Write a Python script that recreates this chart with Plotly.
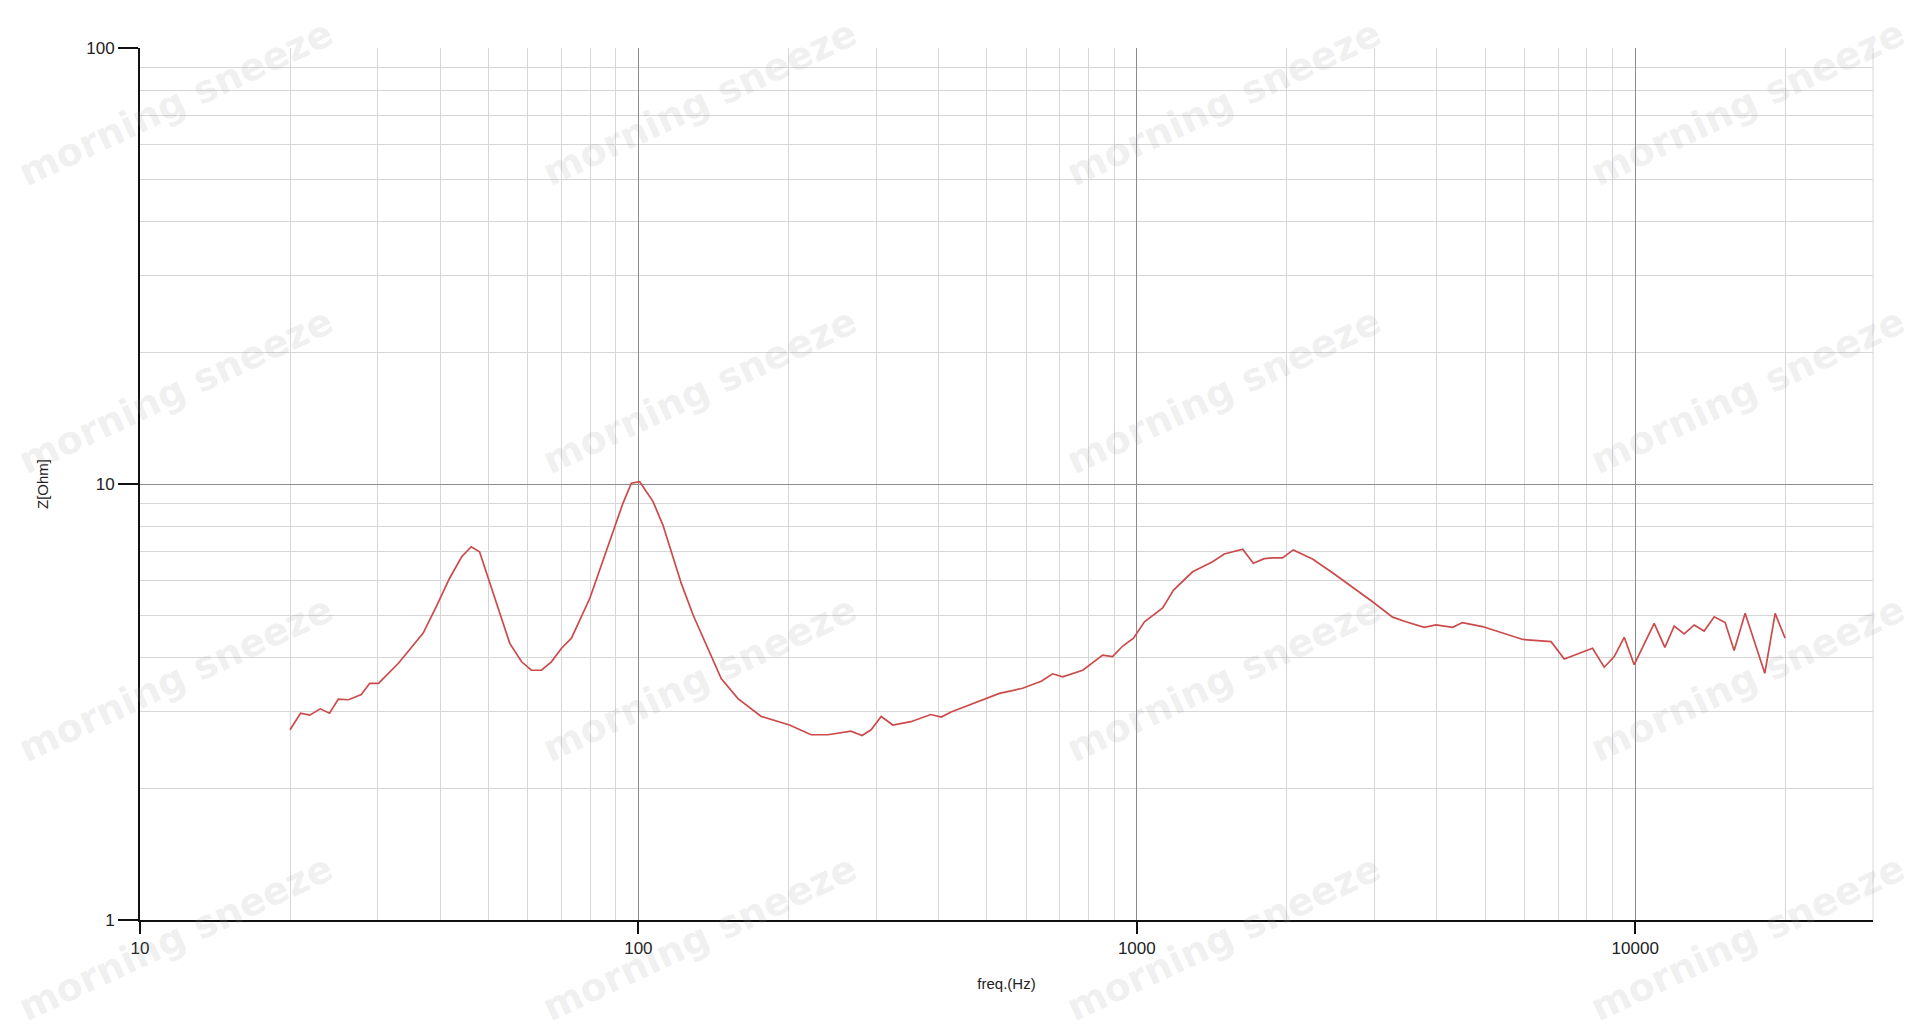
import plotly.graph_objects as go

# ---- data (impedance curve) ----
freq_hz = [20.0, 21.0, 21.9, 23.0, 24.0, 25.0, 26.2, 27.8, 28.9, 30.1, 33.0, 37.0, 39.3, 41.8,
           44.2, 46.2, 48.0, 52.3, 55.2, 58.3, 61.0, 63.9, 66.9, 70.1, 73.4, 79.9, 87.6, 93.1,
           96.8, 100.6, 107, 112, 122, 129, 146.6, 158.4, 176.4, 201, 222, 240, 267, 281, 293,
           307, 324, 352, 386, 405, 424, 469, 530, 590, 643, 678, 710, 779, 854, 894, 937, 985,
           1036, 1127, 1185, 1294, 1419, 1498, 1631, 1713, 1802, 1872, 1961, 2060, 2252, 2470,
           2709, 2972, 3260, 3467, 3773, 3983, 4300, 4502, 4938, 5333, 5950, 6780, 7205, 8212,
           8666, 9076, 9505, 9954, 10917, 11468, 11972, 12539, 13133, 13752, 14405, 15151,
           15795, 16617, 17325, 18197, 19089, 19984]
impedance_ohm = [2.73, 2.98, 2.95, 3.05, 2.98, 3.21, 3.20, 3.29, 3.49, 3.49, 3.88, 4.55, 5.23, 6.08,
                 6.81, 7.18, 6.99, 5.23, 4.31, 3.91, 3.74, 3.74, 3.91, 4.20, 4.43, 5.47, 7.44, 9.03,
                 10.04, 10.12, 9.11, 8.05, 5.9, 4.98, 3.58, 3.22, 2.93, 2.80, 2.66, 2.66, 2.71, 2.65,
                 2.73, 2.93, 2.80, 2.85, 2.96, 2.92, 3.00, 3.14, 3.31, 3.40, 3.53, 3.67, 3.61, 3.74,
                 4.05, 4.02, 4.25, 4.43, 4.83, 5.20, 5.71, 6.29, 6.63, 6.91, 7.09, 6.58, 6.74, 6.77,
                 6.77, 7.06, 6.73, 6.26, 5.80, 5.37, 4.95, 4.83, 4.69, 4.75, 4.69, 4.81, 4.71, 4.58,
                 4.40, 4.35, 3.97, 4.20, 3.80, 4.02, 4.45, 3.85, 4.79, 4.22, 4.72, 4.53, 4.75, 4.60,
                 4.96, 4.81, 4.15, 5.05, 4.39, 3.68, 5.05, 4.43]

x_major_ticks = [10, 100, 1000, 10000]
x_major_labels = ["10", "100", "1000", "10000"]
y_major_ticks = [1, 10, 100]
y_major_labels = ["1", "10", "100"]
x_minor_ticks = [m * d for d in (10, 100, 1000, 10000) for m in range(2, 10) if m * d <= 30000]
y_minor_ticks = [m * d for d in (1, 10) for m in range(2, 10)]

x_title = "freq.(Hz)"
y_title = "Z[Ohm]"
watermark_text = "morning sneeze"

FONT = "Liberation Sans, Arial, sans-serif"

fig = go.Figure()
fig.add_trace(go.Scatter(
    x=freq_hz, y=impedance_ohm, mode="lines",
    line=dict(color="#cc4a4a", width=1.7),
    hoverinfo="x+y", showlegend=False,
))

fig.update_xaxes(
    type="log", range=[1, 4.4771],
    tickmode="array", tickvals=x_major_ticks, ticktext=x_major_labels,
    showgrid=True, gridcolor="#8c8c8c", gridwidth=1,
    minor=dict(tickmode="array", tickvals=x_minor_ticks, showgrid=True,
               gridcolor="#d6d6d6", gridwidth=1, ticks=""),
    showline=True, linecolor="#111111", linewidth=2,
    ticks="outside", ticklen=12, tickwidth=1.5, tickcolor="#111111",
    tickfont=dict(family=FONT, size=17, color="#222222"),
    title=dict(text=x_title, font=dict(family=FONT, size=15, color="#222222"), standoff=21),
    zeroline=False,
)
fig.update_yaxes(
    type="log", range=[0, 2],
    tickmode="array", tickvals=y_major_ticks, ticktext=y_major_labels,
    showgrid=True, gridcolor="#8c8c8c", gridwidth=1,
    minor=dict(tickmode="array", tickvals=y_minor_ticks, showgrid=True,
               gridcolor="#d6d6d6", gridwidth=1, ticks=""),
    showline=True, linecolor="#111111", linewidth=2,
    ticks="outside", ticklen=20, tickwidth=1.5, tickcolor="#111111",
    tickfont=dict(family=FONT, size=17, color="#222222"),
    title=dict(text=y_title, font=dict(family=FONT, size=15, color="#222222"), standoff=34),
    zeroline=False,
)

# right frame edge (light)
fig.add_shape(type="line", xref="paper", yref="paper", x0=1, x1=1, y0=0, y1=1,
              line=dict(color="#d6d6d6", width=1), layer="below")

# faint watermark tiles
wm_cols = [175, 699, 1223, 1747]
wm_rows = [103, 391, 679, 938]
for cx in wm_cols:
    for cy in wm_rows:
        fig.add_annotation(
            xref="paper", yref="paper",
            x=(cx - 140) / (1873 - 140), y=(920 - cy) / (920 - 48),
            text="<b>" + watermark_text + "</b>", showarrow=False, textangle=-25,
            font=dict(family="DejaVu Sans, sans-serif", size=38, color="rgba(160,160,160,0.17)"),
            xanchor="center", yanchor="middle",
        )

fig.update_layout(
    width=1920, height=1035,
    margin=dict(l=140, r=47, t=48, b=115),
    paper_bgcolor="white", plot_bgcolor="white",
    font=dict(family=FONT),
)

fig.write_html("out.html", config={"displayModeBar": False},
               post_script="document.body.style.margin='0';document.body.style.overflow='hidden';")
